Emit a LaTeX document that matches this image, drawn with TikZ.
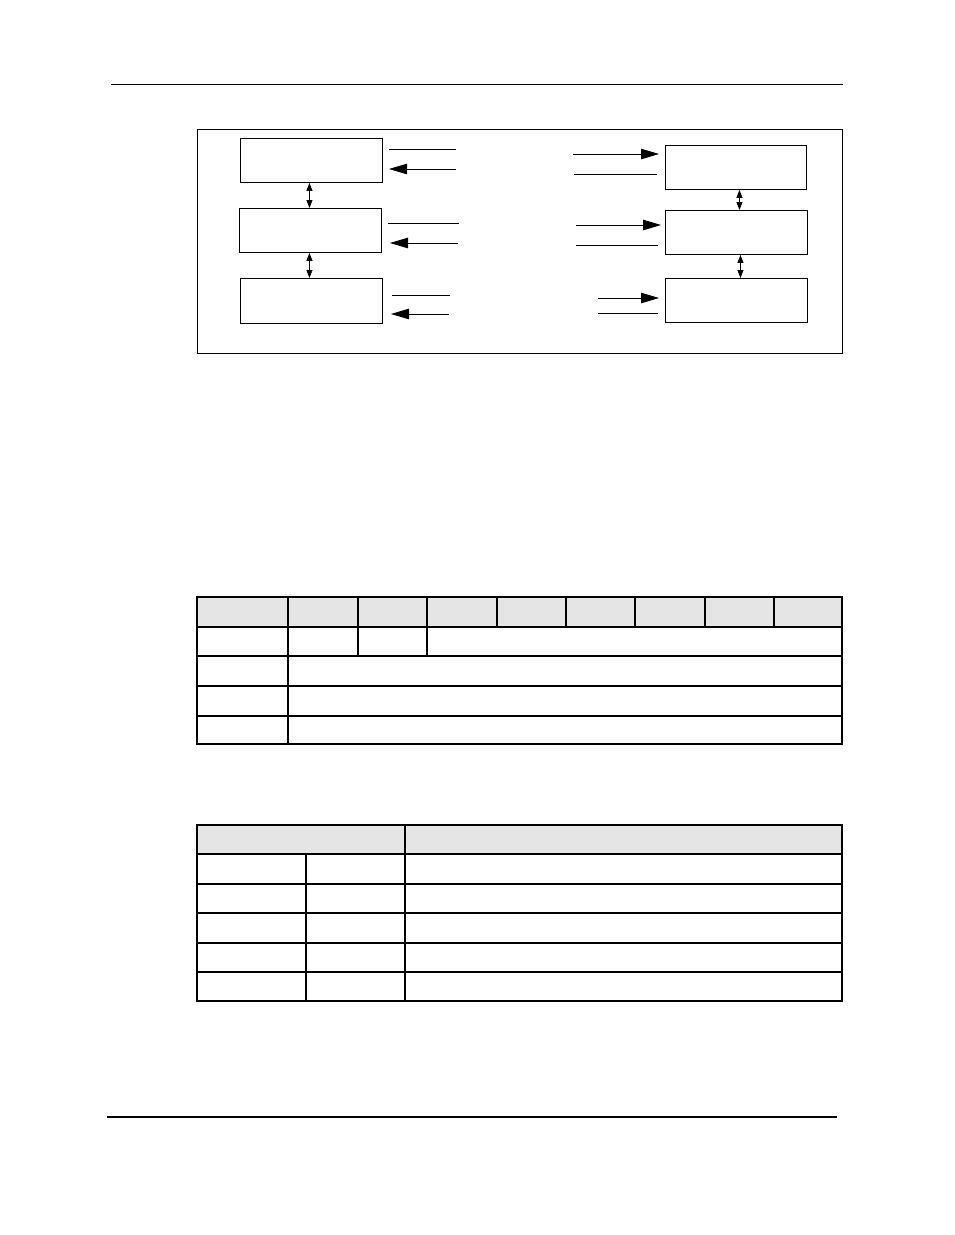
\documentclass[tikz,border=0pt]{standalone}
\usetikzlibrary{arrows.meta}
\definecolor{hdrgray}{HTML}{E5E5E5}
\begin{document}
\begin{tikzpicture}[x=1pt,y=-1pt,
  blk/.style={draw,line width=0.9pt,inner sep=0pt,anchor=north west,minimum width=142pt,minimum height=44pt},
  bigarr/.style={line width=0.9pt,-{Triangle[length=18pt,width=10.5pt]}},
  plainln/.style={line width=0.9pt},
  dblarr/.style={line width=0.9pt,{Triangle[length=8pt,width=6pt]}-{Triangle[length=8pt,width=6pt]}},
  tbl/.style={line width=1.1pt},
  rulethin/.style={line width=1pt},
  rulethick/.style={line width=2pt}]
\useasboundingbox (0,0) rectangle (954,1235);
% page rules
\draw[rulethin] (111,84.5) -- (843,84.5);
\draw[rulethick] (107,1117) -- (837,1117);
% frame
\draw[line width=0.9pt] (197,129) rectangle (842,353);
% left boxes
\node[blk] (L1) at (240,138) {};
\node[blk] (L2) at (239,208) {};
\node[blk,minimum height=45pt] (L3) at (240,278) {};
% right boxes
\node[blk,minimum width=141pt] (R1) at (665,145) {};
\node[blk] (R2) at (665,210) {};
\node[blk] (R3) at (665,278) {};
% vertical double arrows
\draw[dblarr] ([xshift=-2pt]L1.south) -- ([xshift=-1pt]L2.north);
\draw[dblarr] ([xshift=-1pt]L2.south) -- ([xshift=-2pt]L3.north);
\draw[dblarr] ([xshift=3.5pt]R1.south) -- ([xshift=3pt]R2.north);
\draw[dblarr] ([xshift=4pt]R2.south) -- ([xshift=4pt]R3.north);
% left side lines
\coordinate (la1) at (389,149); \coordinate (lb1) at (456,149);
\coordinate (lc1) at (456,169); \coordinate (ld1) at (389,169);
\coordinate (la2) at (388,223); \coordinate (lb2) at (459,223);
\coordinate (lc2) at (458,243); \coordinate (ld2) at (390,243);
\coordinate (la3) at (392,295); \coordinate (lb3) at (450,295);
\coordinate (lc3) at (449,314); \coordinate (ld3) at (391,314);
\draw[plainln] (la1) -- (lb1);
\draw[bigarr] (lc1) -- (ld1);
\draw[plainln] (la2) -- (lb2);
\draw[bigarr] (lc2) -- (ld2);
\draw[plainln] (la3) -- (lb3);
\draw[bigarr] (lc3) -- (ld3);
% right side lines
\coordinate (ra1) at (573,154); \coordinate (rb1) at (659,154);
\coordinate (rc1) at (574,174); \coordinate (rd1) at (657,174);
\coordinate (ra2) at (576,225); \coordinate (rb2) at (661,225);
\coordinate (rc2) at (576,245); \coordinate (rd2) at (658,245);
\coordinate (ra3) at (598,298); \coordinate (rb3) at (659,298);
\coordinate (rc3) at (598,313); \coordinate (rd3) at (658,313);
\draw[bigarr] (ra1) -- (rb1);
\draw[plainln] (rc1) -- (rd1);
\draw[bigarr] (ra2) -- (rb2);
\draw[plainln] (rc2) -- (rd2);
\draw[bigarr] (ra3) -- (rb3);
\draw[plainln] (rc3) -- (rd3);
% table 1
\fill[hdrgray] (197,597) rectangle (842,627);
\draw[tbl] (197,597) rectangle (842,744);
\foreach \yy in {627,656,686,716} \draw[tbl] (197,\yy) -- (842,\yy);
\draw[tbl] (288,597) -- (288,744);
\foreach \xx in {358,427} \draw[tbl] (\xx,597) -- (\xx,656);
\foreach \xx in {497,566,635,705,774} \draw[tbl] (\xx,597) -- (\xx,627);
% table 2
\fill[hdrgray] (197,825) rectangle (842,854);
\draw[tbl] (197,825) rectangle (842,1001);
\foreach \yy in {854,884,913,943,972} \draw[tbl] (197,\yy) -- (842,\yy);
\draw[tbl] (405,825) -- (405,1001);
\draw[tbl] (306,854) -- (306,1001);
\end{tikzpicture}
\end{document}
